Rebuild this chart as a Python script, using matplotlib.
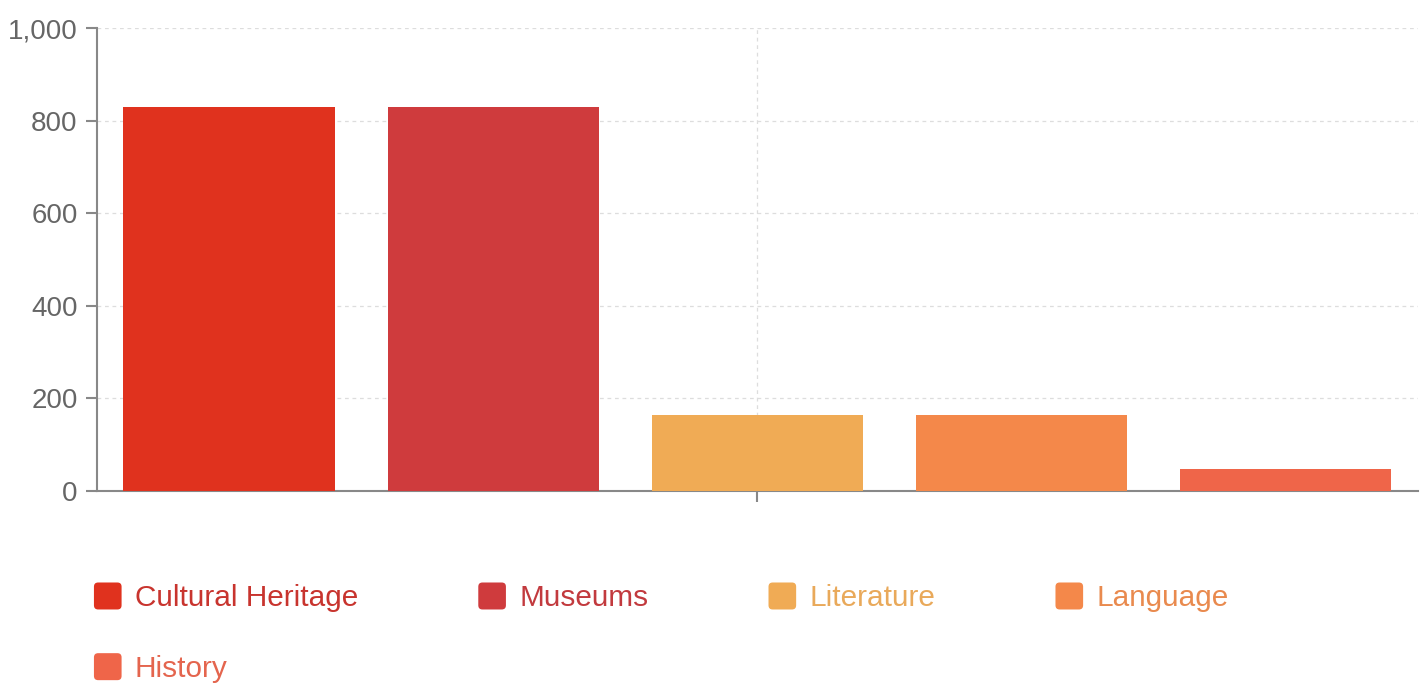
import matplotlib.pyplot as plt
from matplotlib.patches import Patch, FancyBboxPatch
from matplotlib.legend_handler import HandlerPatch

plt.rcParams['font.family'] = ['Liberation Sans', 'DejaVu Sans']

# data
series = ["Cultural Heritage", "Museums", "Literature", "Language", "History"]
values = [830, 830, 165, 165, 47]
colors = ["#E0321E", "#CF3B3D", "#F0AB55", "#F4884A", "#EF6549"]
text_colors = ["#C8342E", "#C23A3E", "#E9A95A", "#E98A4E", "#E4654E"]
y_ticks = [0, 200, 400, 600, 800, 1000]
y_labels = ["0", "200", "400", "600", "800", "1,000"]


# rounded square legend markers
class RoundBox(HandlerPatch):
    def create_artists(self, legend, orig_handle, xdescent, ydescent, width, height, fontsize, trans):
        p = FancyBboxPatch((-xdescent, -ydescent), width, height,
                           boxstyle="round,pad=0,rounding_size=3",
                           facecolor=orig_handle.get_facecolor(), edgecolor="none",
                           transform=trans)
        return [p]


fig = plt.figure(figsize=(14.27, 6.85), dpi=100)
ax = fig.add_axes([0.068, 0.2832, 0.9256, 0.6759])

n = len(series)
step = 0.2
width = 0.16
for i, (name, v, c) in enumerate(zip(series, values, colors)):
    ax.bar((i - (n - 1) / 2) * step, v, width=width, color=c, label=name, zorder=3)

ax.set_xlim(-0.5, 0.5)
ax.set_ylim(0, 1000)
ax.set_yticks(y_ticks)
ax.set_yticklabels(y_labels)
ax.set_xticks([0])
ax.set_xticklabels([""])

ax.grid(True, color="#dddddd", linestyle=(0, (3, 3)), linewidth=0.9, zorder=0)
for s in ["top", "right"]:
    ax.spines[s].set_visible(False)
for s in ["left", "bottom"]:
    ax.spines[s].set_color("#888888")
    ax.spines[s].set_linewidth(1.5)
ax.tick_params(axis="both", colors="#888888", length=8, width=1.5, labelsize=20,
               labelcolor="#666666", pad=6)

# legend, column-major order so History sits under Cultural Heritage
order = [0, 4, 1, 2, 3]
handles = [Patch(facecolor=colors[i]) for i in order]
labels = [series[i] for i in order]
leg = fig.legend(handles, labels, ncol=4, loc="upper left",
                 bbox_to_anchor=(0.0575, 0.167), frameon=False, fontsize=21.4,
                 handlelength=0.93, handleheight=1.02, handletextpad=0.44,
                 columnspacing=4.05, labelspacing=1.38, borderaxespad=0,
                 handler_map={Patch: RoundBox()})
for t, i in zip(leg.get_texts(), order):
    t.set_color(text_colors[i])

fig.savefig("out.png", dpi=100)
